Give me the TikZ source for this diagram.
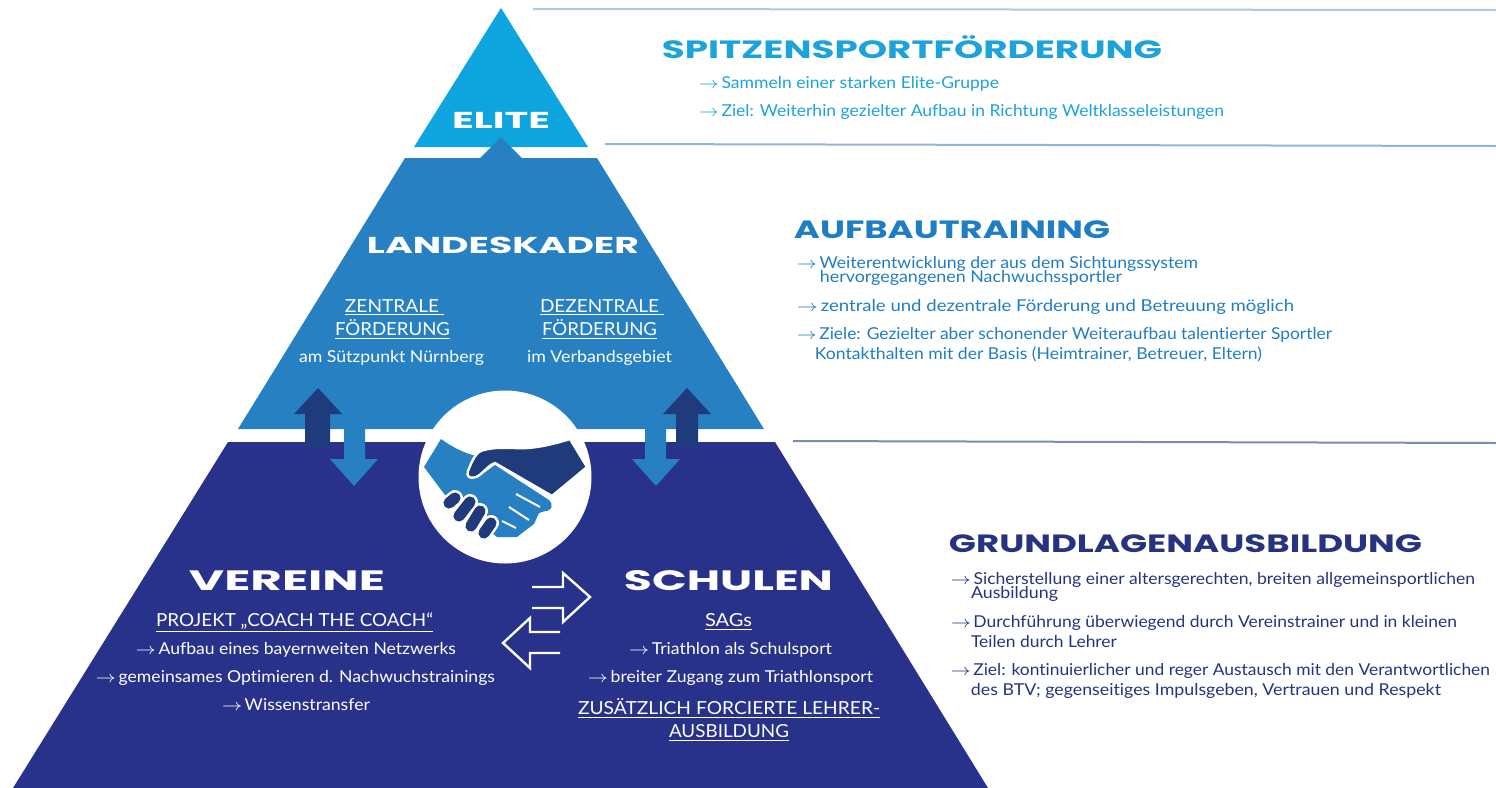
\documentclass[tikz,border=0pt]{standalone}
\usepackage{graphicx}
\usepackage{fontspec}
\setmainfont{Lato}[Ligatures=NoCommon]
\newfontfamily\hf{Poppins}
\definecolor{cElite}{HTML}{0EA5DE}
\definecolor{cLand}{HTML}{2680C2}
\definecolor{cBase}{HTML}{28328A}
\definecolor{cDark}{HTML}{1F3B7C}
\definecolor{cHead}{HTML}{1BA3DA}
\definecolor{cHeadB}{HTML}{1F7DC4}
\definecolor{cHeadC}{HTML}{26337F}
\definecolor{cLineA}{HTML}{A9CBE4}
\definecolor{cLineB}{HTML}{8FB6D8}
\definecolor{cLineC}{HTML}{7C8DB0}
\newdimen\pxu \pxu=0.5pt
\newcommand{\arr}{\scalebox{1.1}[1.0]{$\rightarrow$}\kern1.2pt}
\newcommand{\T}[6][]{\node[txt,#1] (#2) at ({(#3+#4)/2},#5+1) {\resizebox{\dimexpr\numexpr#4-#3\relax\pxu\relax}{\height}{#6}};}
\tikzset{
  txt/.style={inner sep=0pt,outer sep=0pt,anchor=mid,font=\fontsize{8.2}{10}\selectfont},
  wb/.style={text=white},
  wm/.style={text=white,font=\fontsize{9}{11}\selectfont},
  hd/.style={font=\hf\bfseries\fontsize{#1}{#1}\selectfont},
  lightb/.style={text=cHead},
  midb/.style={text=cHeadB},
  darkb/.style={text=cHeadC},
  rule/.style={line width=1pt},
  outlinearrow/.style={draw=white,line width=1.2pt,line join=miter},
  finger/.style={line cap=round,line width=5pt,cDark}
}
\begin{document}
\begin{tikzpicture}[x=0.5pt,y=-0.5pt]
\useasboundingbox (0,0) rectangle (1496,788);
% rules
\draw[rule,cLineA] (533,9) -- (1496,10);
\draw[rule,cLineB] (605,144) -- (1496,146);
\draw[rule,cLineC] (793,441) -- (1496,443);
% pyramid
\fill[cElite] (501,8) -- (588,147) -- (414,147) -- cycle;
\fill[cLand] (501,137) -- (522,158) -- (597,158) -- (764,429) -- (238,429) -- (405,158) -- (480,158) -- cycle;
\fill[cBase] (228,442) -- (775,442) -- (988,788) -- (13,788) -- cycle;
% vertical arrows
\fill[cDark] (318,388) -- (342,414) -- (330,414) -- (330,447) -- (305,447) -- (305,414) -- (294,414) -- cycle;
\fill[cDark] (687,388) -- (711,414) -- (698,414) -- (698,447) -- (676,447) -- (676,414) -- (663,414) -- cycle;
\fill[cLand] (344,428) -- (365,428) -- (365,459) -- (378,459) -- (354,486) -- (330,459) -- (344,459) -- cycle;
\fill[cLand] (645,428) -- (666,428) -- (666,459) -- (680,459) -- (656,486) -- (632,459) -- (645,459) -- cycle;
% handshake
\fill[white] (505,477) circle (86.5);
\fill[cLand] (441,439) .. controls (452,447) and (464,453) .. (476,456) -- (468,474) -- (477,478) -- (495,465) -- (549,500) .. controls (554,505) and (552,511) .. (545,511) -- (539,513) -- (534,524) -- (526,530) -- (517,537) -- (497,537) -- (445,495) -- (424,467) -- cycle;
\draw[white,line width=1.2pt,fill=cDark,line join=round] (570,439) -- (587,467) -- (552,496) -- (495,463) .. controls (487,466) and (483,474) .. (476,477) .. controls (470,479) and (466,477) .. (468,471) .. controls (472,461) and (476,451) .. (484,450) .. controls (495,447) and (506,448) .. (514,448) .. controls (527,449) and (545,447) .. (570,439) -- cycle;
\draw[white,line width=1pt] (516,494) -- (540,507) (509,507) -- (529,520) (502,521) -- (516,528);
\draw[white,line width=8pt,line cap=round] (449,503) -- (455,498) (459,516) -- (470,502) (471,526) -- (480,511) (484,533) -- (491,523);
\draw[finger,line width=5.6pt] (449,503) -- (455,498) (459,516) -- (470,502) (471,526) -- (480,511) (484,533) -- (491,523);
% horizontal outline arrows
\draw[outlinearrow] (532,587) -- (563,587) -- (563,573) -- (590,597) -- (563,622) -- (563,608) -- (532,608);
\draw[outlinearrow] (560,632) -- (530,632) -- (530,618) -- (503,643) -- (530,668) -- (530,653) -- (560,653);
% pyramid texts
\T[wb,hd=11.5]{elite}{452}{550}{122}{ELITE}
\T[wb,hd=11.5]{land}{367}{639}{247}{LANDESKADER}
\T[wm]{zen1}{345}{444}{306}{\underline{ZENTRALE\ }}
\T[wm]{zen2}{335}{450}{329}{\underline{FÖRDERUNG}}
\T[wb]{zen3}{299}{484}{356}{am Sützpunkt Nürnberg}
\T[wm]{dez1}{540}{664}{306}{\underline{DEZENTRALE\ }}
\T[wm]{dez2}{542}{657}{329}{\underline{FÖRDERUNG}}
\T[wb]{dez3}{527}{672}{356}{im Verbandsgebiet}
\T[wb,hd=14]{ver}{189}{385}{584}{VEREINE}
\T[wb,hd=14]{sch}{624}{833}{584}{SCHULEN}
\T[wm]{v1}{156}{433}{620}{\underline{PROJEKT „COACH THE COACH“}}
\T[wb]{v2}{136}{456}{648}{\arr Aufbau eines bayernweiten Netzwerks}
\T[wb]{v3}{96}{495}{676}{\arr gemeinsames Optimieren d. Nachwuchstrainings}
\T[wb]{v4}{222}{370}{704}{\arr Wissenstransfer}
\T[wm]{s1}{705}{752}{620}{\underline{SAGs}}
\T[wb]{s2}{629}{832}{648}{\arr Triathlon als Schulsport}
\T[wb]{s3}{588}{873}{676}{\arr breiter Zugang zum Triathlonsport}
\T[wm]{s4}{578}{880}{708}{\underline{ZUSÄTZLICH FORCIERTE LEHRER-}}
\T[wm]{s5}{669}{789}{731}{\underline{AUSBILDUNG}}
% right texts
\T[lightb,hd=12.5]{h1}{662}{1162}{52}{SPITZENSPORTFÖRDERUNG}
\T[lightb]{a1}{699}{999}{82}{\arr Sammeln einer starken Elite-Gruppe}
\T[lightb]{a2}{699}{1224}{110}{\arr Ziel: Weiterhin gezielter Aufbau in Richtung Weltklasseleistungen}
\T[midb,hd=12.5]{h2}{794}{1110}{232}{AUFBAUTRAINING}
\T[midb]{b1}{797}{1198}{262}{\arr Weiterentwicklung der aus dem Sichtungssystem}
\T[midb]{b2}{820}{1122}{276}{hervorgegangenen Nachwuchssportler}
\T[midb]{b3}{797}{1294}{305}{\arr zentrale und dezentrale Förderung und Betreuung möglich}
\T[midb]{b4}{797}{1332}{333}{\arr Ziele: Gezielter aber schonender Weiteraufbau talentierter Sportler}
\T[midb]{b5}{815}{1262}{353}{Kontakthalten mit der Basis (Heimtrainer, Betreuer, Eltern)}
\T[darkb,hd=12.5]{h3}{949}{1422}{546}{GRUNDLAGENAUSBILDUNG}
\T[darkb]{c1}{951}{1475}{578}{\arr Sicherstellung einer altersgerechten, breiten allgemeinsportlichen}
\T[darkb]{c2}{971}{1058}{592}{Ausbildung}
\T[darkb]{c3}{951}{1457}{621}{\arr Durchführung überwiegend durch Vereinstrainer und in kleinen}
\T[darkb]{c4}{971}{1117}{641}{Teilen durch Lehrer}
\T[darkb]{c5}{951}{1490}{669}{\arr Ziel: kontinuierlicher und reger Austausch mit den Verantwortlichen}
\T[darkb]{c6}{971}{1441}{689}{des BTV; gegenseitiges Impulsgeben, Vertrauen und Respekt}
\end{tikzpicture}
\end{document}
